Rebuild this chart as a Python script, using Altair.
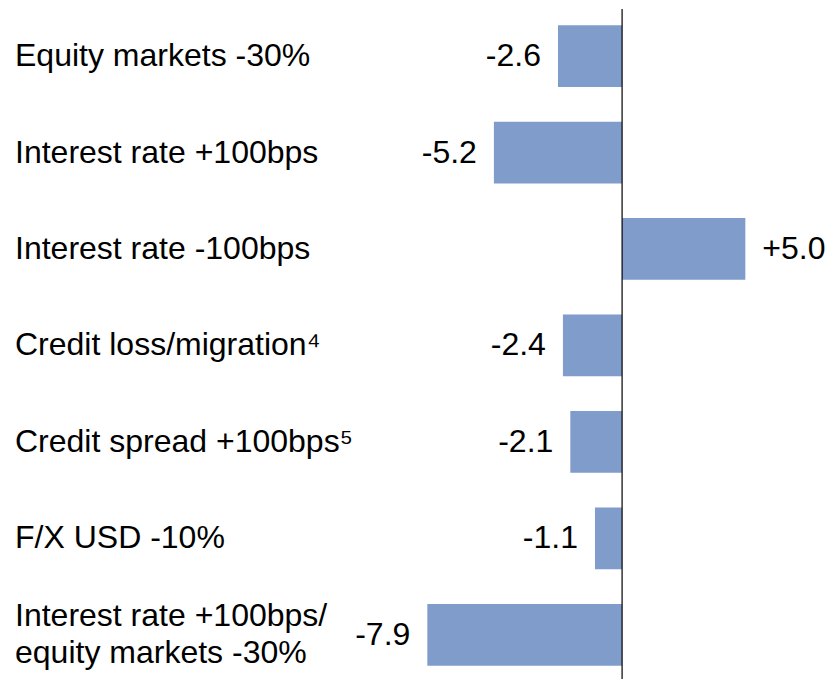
import altair as alt
import pandas as pd

categories = [
    "Equity markets -30%",
    "Interest rate +100bps",
    "Interest rate -100bps",
    "Credit loss/migration\u2074",
    "Credit spread +100bps\u2075",
    "F/X USD -10%",
    "Interest rate +100bps/\nequity markets -30%",
]
values = [-2.6, -5.2, 5.0, -2.4, -2.1, -1.1, -7.9]
value_labels = ["-2.6", "-5.2", "+5.0", "-2.4", "-2.1", "-1.1", "-7.9"]

df = pd.DataFrame({
    "cat": categories,
    "val": values,
    "lab": value_labels,
    "row": list(range(len(categories))),
})
df["y0"] = df["row"] - 0.32
df["y1"] = df["row"] + 0.32
df["zero"] = 0.0
df["multi"] = df["cat"].str.contains("\n")

FONT = "Liberation Sans"
FS = 32
LH = 37
YMIN, YMAX = -0.488, 6.5

xsc = alt.Scale(domain=[-24.91, 8.15], nice=False, zero=False)
ysc = alt.Scale(domain=[YMIN, YMAX], nice=False, zero=False, reverse=True)

base = alt.Chart(df)

bars = base.mark_bar(color="#7F9CCB").encode(
    x=alt.X("val:Q", scale=xsc, axis=None),
    x2="zero:Q",
    y=alt.Y("y0:Q", scale=ysc, axis=None),
    y2="y1:Q",
)

rule = alt.Chart(pd.DataFrame({"x": [0.0], "ya": [YMIN], "yb": [YMAX]})).mark_rule(
    color="black", strokeWidth=1.2
).encode(
    x=alt.X("x:Q", scale=xsc),
    y=alt.Y("ya:Q", scale=ysc),
    y2="yb:Q",
)

neg = base.transform_filter("datum.val < 0").mark_text(
    align="right", baseline="middle", dx=-17, font=FONT, fontSize=FS, color="black"
).encode(
    x=alt.X("val:Q", scale=xsc),
    y=alt.Y("row:Q", scale=ysc),
    text="lab:N",
)

pos = base.transform_filter("datum.val >= 0").mark_text(
    align="left", baseline="middle", dx=17, font=FONT, fontSize=FS, color="black"
).encode(
    x=alt.X("val:Q", scale=xsc),
    y=alt.Y("row:Q", scale=ysc),
    text="lab:N",
)

cats_single = base.transform_filter("!datum.multi").mark_text(
    align="left", baseline="middle", font=FONT, fontSize=FS, color="black",
).encode(
    x=alt.value(7),
    y=alt.Y("row:Q", scale=ysc),
    text="cat:N",
)

cats_multi = base.transform_filter("datum.multi").mark_text(
    align="left", baseline="middle", font=FONT, fontSize=FS, color="black",
    lineBreak="\n", lineHeight=LH, dy=-LH / 2,
).encode(
    x=alt.value(7),
    y=alt.Y("row:Q", scale=ysc),
    text="cat:N",
)

chart = alt.layer(bars, rule, neg, pos, cats_single, cats_multi).properties(
    width=815, height=674,
    padding={"left": 0, "top": 0, "right": 0, "bottom": 0},
).configure_view(stroke=None)

chart.save("out.html", embed_options={"renderer": "svg", "actions": False})
